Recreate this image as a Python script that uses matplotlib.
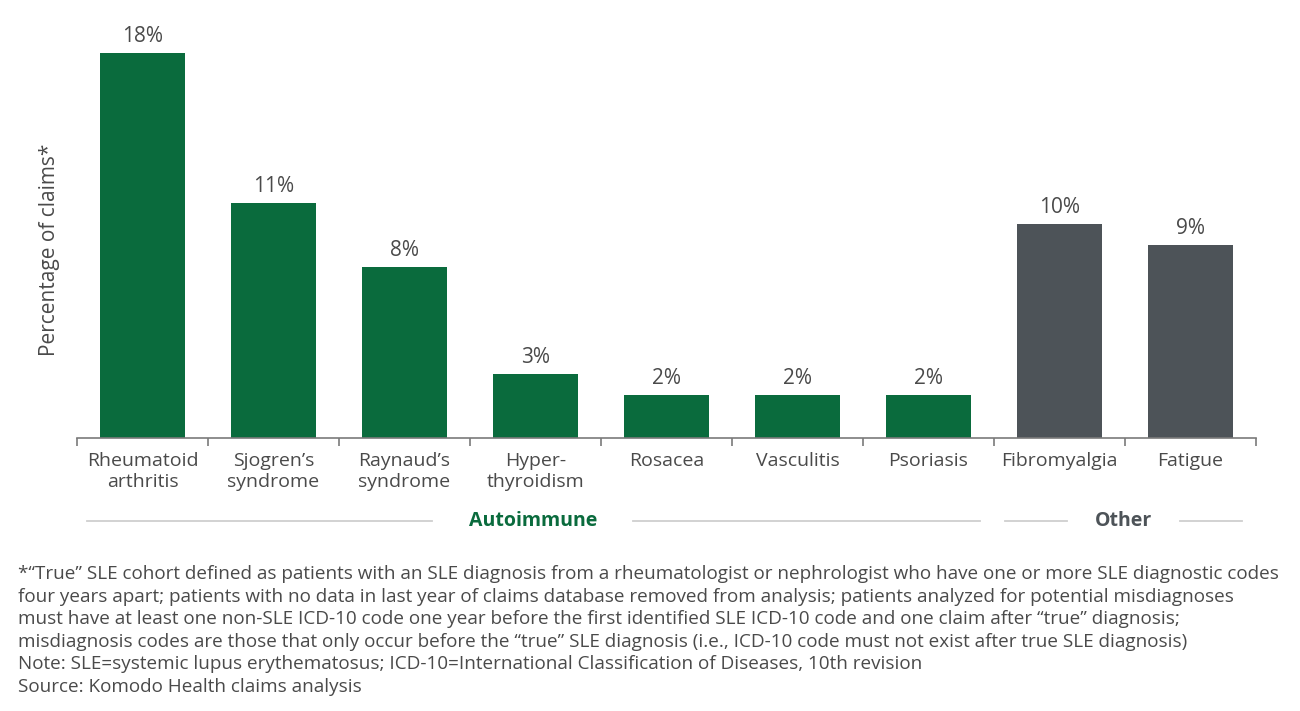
import matplotlib
matplotlib.use("Agg")
import matplotlib.pyplot as plt
import numpy as np

plt.rcParams['font.family'] = ['Open Sans', 'DejaVu Sans']

categories = ["Rheumatoid\narthritis", "Sjogren\u2019s\nsyndrome", "Raynaud\u2019s\nsyndrome",
              "Hyper-\nthyroidism", "Rosacea", "Vasculitis", "Psoriasis",
              "Fibromyalgia", "Fatigue"]
values = [18, 11, 8, 3, 2, 2, 2, 10, 9]
groups = ["Autoimmune"] * 7 + ["Other"] * 2

green = "#0a6b3d"
grey_bar = "#4d5358"
text_col = "#4a4a4a"

W, H = 1300, 711
fig = plt.figure(figsize=(W / 100, H / 100), dpi=100)
# axes placed in pixel terms of the reference
x0, x1 = 77, 1256
ytop, ybase = 40, 438
ax = fig.add_axes([x0 / W, 1 - ybase / H, (x1 - x0) / W, (ybase - ytop) / H])

x = np.arange(len(values))
colors = [green if g == "Autoimmune" else grey_bar for g in groups]
ax.bar(x, values, width=0.655, color=colors)
ax.set_xlim(-0.5, len(values) - 0.5)
ax.set_ylim(0, 18.6)

for xi, v in zip(x, values):
    ax.text(xi, v + 0.28, f"{v}%", ha="center", va="bottom", fontsize=15, color=text_col)

for s in ["top", "right", "left"]:
    ax.spines[s].set_visible(False)
ax.spines["bottom"].set_color("#7a7a7a")
ax.spines["bottom"].set_linewidth(1.2)
ax.set_yticks([])

# ticks at slot boundaries, labels centred on bars
ax.set_xticks(np.arange(len(values) + 1) - 0.5)
ax.set_xticklabels([])
ax.tick_params(axis="x", which="major", length=6, color="#7a7a7a", width=1.2, direction="out")
ax.set_xticks(x, minor=True)
ax.set_xticklabels(categories, minor=True, fontsize=14, color=text_col, linespacing=1.22)
ax.tick_params(axis="x", which="minor", length=0, pad=10)

ax.set_ylabel("Percentage of claims*", fontsize=15, color=text_col)
ax.yaxis.set_label_coords(-0.014, 0.472)

# group labels with side lines (figure pixel coords)
def fx(px):
    return px / W

def fy(py):
    return 1 - py / H

gy = 521
fig.text(fx(533), fy(gy), "Autoimmune", ha="center", va="center", fontsize=14,
         fontweight="bold", color=green)
fig.text(fx(1123), fy(gy), "Other", ha="center", va="center", fontsize=14,
         fontweight="bold", color="#4d5358")
for a, b in [(87, 432), (633, 980), (1005, 1067), (1180, 1242)]:
    fig.add_artist(plt.Line2D([fx(a), fx(b)], [fy(gy), fy(gy)], color="#cfcfcf", lw=1.3))

notes = [
    "*\u201cTrue\u201d SLE cohort defined as patients with an SLE diagnosis from a rheumatologist or nephrologist who have one or more SLE diagnostic codes",
    "four years apart; patients with no data in last year of claims database removed from analysis; patients analyzed for potential misdiagnoses",
    "must have at least one non-SLE ICD-10 code one year before the first identified SLE ICD-10 code and one claim after \u201ctrue\u201d diagnosis;",
    "misdiagnosis codes are those that only occur before the \u201ctrue\u201d SLE diagnosis (i.e., ICD-10 code must not exist after true SLE diagnosis)",
    "Note: SLE=systemic lupus erythematosus; ICD-10=International Classification of Diseases, 10th revision",
    "Source: Komodo Health claims analysis",
]
for i, line in enumerate(notes):
    fig.text(fx(18), fy(574 + i * 22.6), line, ha="left", va="center", fontsize=13.6, color=text_col)

fig.savefig("out.png", dpi=100, facecolor="white")
